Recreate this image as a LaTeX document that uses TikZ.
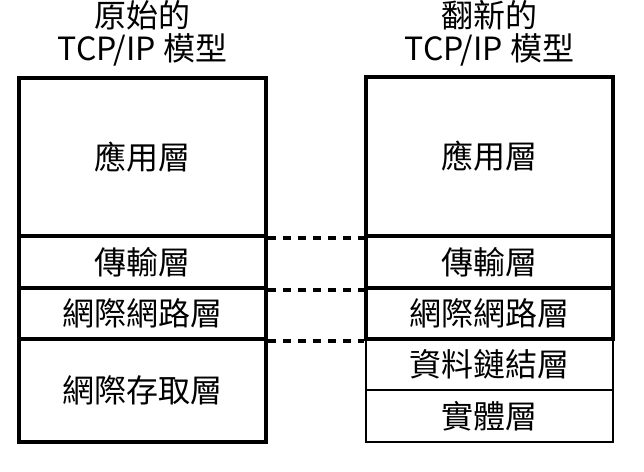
\documentclass[tikz,border=0pt]{standalone}
\usepackage{fontspec}
\setmainfont{Noto Sans CJK TC}
\begin{document}
\begin{tikzpicture}[x=1pt, y=-1pt, line width=3.6pt]
\useasboundingbox (0,0) rectangle (644,471);
\tikzstyle{every node} = [rectangle, draw=black, minimum width=247pt, inner sep=0pt, font=\fontsize{32}{34}\selectfont]
\node[minimum height=158pt] (1) at (142.5,157) {應用層};
\node[minimum height=52pt] (2) at (142.5,262) {傳輸層};
\node[minimum height=51pt] (3) at (142.5,313.5) {網際網路層};
\node[minimum height=103pt] (4) at (142.5,390.5) {網際存取層};
\node[minimum height=159pt] (5) at (489.5,156.5) {應用層};
\node[minimum height=52pt] (6) at (489.5,262) {傳輸層};
\node[minimum height=51pt] (7) at (489.5,313.5) {網際網路層};
\node[minimum height=51pt, line width=2.6pt] (8) at (489.5,364.5) {資料鏈結層};
\node[minimum height=52pt, line width=2.6pt] (9) at (489.5,416) {實體層};
\tikzstyle{every node} = [align=center, font=\fontsize{32}{33}\selectfont]
\node (10) at (142.5,33) {原始的\\TCP/IP 模型};
\node (11) at (489.5,33) {翻新的\\TCP/IP 模型};
\tikzstyle{every path} = [dash pattern=on 8pt off 7pt]
\draw (1.south east) -- (5.south west);
\draw (2.south east) -- (6.south west);
\draw (3.south east) -- (7.south west);
\end{tikzpicture}
\end{document}
